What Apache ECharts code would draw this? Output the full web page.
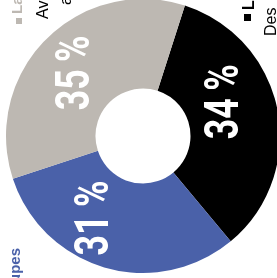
<!DOCTYPE html>
<html><head><meta charset="utf-8">
<script src="https://cdn.jsdelivr.net/npm/echarts@6/dist/echarts.min.js"></script>
<style>html,body{margin:0;padding:0;background:#fff;overflow:hidden}#c{width:277px;height:278px}</style>
</head><body><div id="c"></div>
<script>
// Data
const categories = ['Les …', 'Groupes', 'La …'];
const values = [34, 31, 35];
const colors = ['#000000', '#4a61a9', '#bdb8b2'];
// label nudges on screen (px) to match the reference placement
const labelShift = [[-11, -16], [-21, -9.5], [1, 4]];
const LABEL_SCALE = 0.73;

const chart = echarts.init(document.getElementById('c'), null, {renderer: 'canvas'});
const R = Math.PI / 2;
chart.setOption({
  animation: false,
  series: [{
    type: 'pie',
    center: [143, 136],
    radius: [47.5, 137],
    startAngle: 72.2,
    clockwise: true,
    avoidLabelOverlap: false,
    label: {
      show: true,
      position: 'inside',
      rotate: 90,
      color: '#ffffff',
      fontFamily: 'Roboto, "Liberation Sans", sans-serif',
      fontWeight: 'bold',
      fontSize: 49,
      formatter: p => p.value + '\u2009%'
    },
    labelLine: {show: false},
    emphasis: {disabled: true},
    itemStyle: {borderWidth: 0},
    // dx/dy act in the rotated (and condensed) label frame
    labelLayout: p => ({dx: -labelShift[p.dataIndex][1] / LABEL_SCALE, dy: labelShift[p.dataIndex][0]}),
    data: categories.map((n, i) => ({name: n, value: values[i], itemStyle: {color: colors[i]}}))
  }],
  graphic: [
    {type: 'rect', shape: {x: 16, y: 18, width: 6, height: 6}, style: {fill: '#bdb8b2'}},
    {type: 'rect', shape: {x: 244, y: 14, width: 7, height: 7}, style: {fill: '#000'}}
  ]
});
const zr = chart.getZr();
// condense the percentage labels (the reference uses a condensed face)
zr.storage.getRoots().forEach(root => {
  if (!root.traverse) return;
  root.traverse(el => {
    const t = el.getTextContent && el.getTextContent();
    if (t && t.style && /%/.test(String(t.style.text))) {
      t.scaleX = LABEL_SCALE;
      t.markRedraw();
      el.markRedraw();
    }
  });
});
// vertical (bottom-to-top) annotation texts
function vtext(x, y, text, font, fill, align) {
  zr.add(new echarts.graphic.Text({
    x: x, y: y, rotation: R, z: 20,
    style: {text: text, fill: fill, font: font, align: align || 'left', verticalAlign: 'middle'}
  }));
}
vtext(18, 14, 'La part', 'bold 15px "Liberation Sans", Arial, sans-serif', '#bdb8b2');
vtext(44, 19, 'Avec', '16px "Liberation Sans", Arial, sans-serif', '#000');
vtext(66.5, 5, 'au', '16px "Liberation Sans", Arial, sans-serif', '#000');
vtext(249.5, 10, 'Les', 'bold 16px "Liberation Sans", Arial, sans-serif', '#000');
vtext(271.5, 36, 'Des', '16px "Liberation Sans", Arial, sans-serif', '#000');
vtext(16, 248, 'Groupes', 'bold 15px "Liberation Sans", Arial, sans-serif', '#4a61a9', 'right');
zr.refreshImmediately();
</script></body></html>
